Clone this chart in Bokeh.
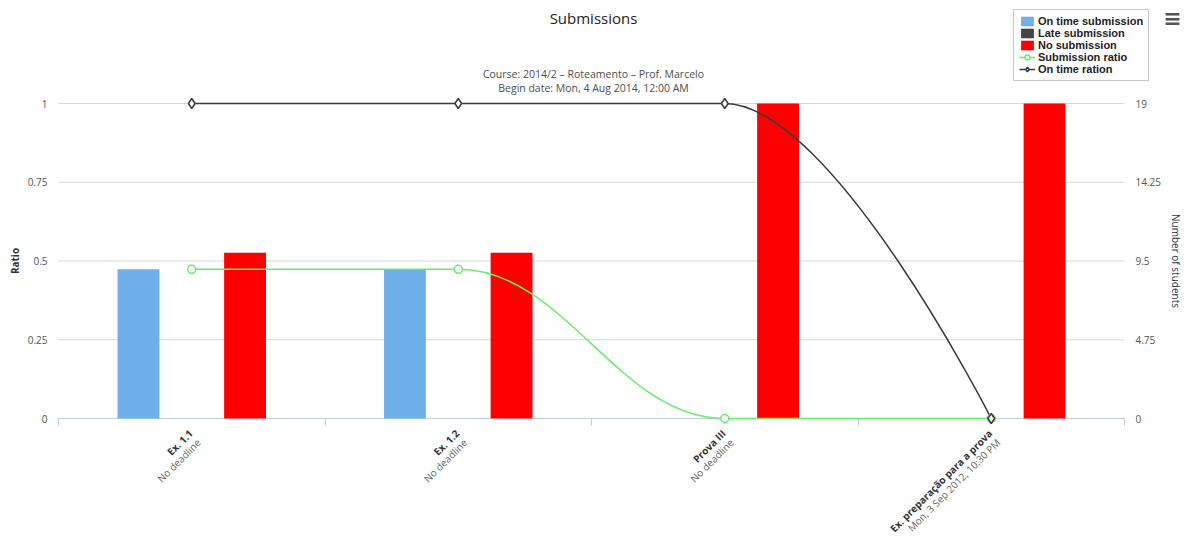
from bokeh.plotting import figure
from bokeh.models import (Range1d, LinearAxis, FixedTicker, Legend, LegendItem,
                          Label, ColumnDataSource)
from bokeh.transform import dodge
from bokeh.embed import file_html
from bokeh.resources import INLINE

# ---------------- data ----------------
categories = ["Ex. 1.1", "Ex. 1.2", "Prova III", "Ex. preparação para a prova"]
deadlines = ["No deadline", "No deadline", "No deadline", "Mon, 3 Sep 2012, 10:30 PM"]
on_time = [9, 9, 0, 0]
late = [0, 0, 0, 0]
no_submission = [10, 10, 19, 19]
submission_ratio = [9 / 19, 9 / 19, 0, 0]
on_time_ratio = [1, 1, 1, 0]
ratio_ticks = [0, 0.25, 0.5, 0.75, 1]
ratio_labels = ["0", "0.25", "0.5", "0.75", "1"]
student_ticks = [0, 4.75, 9.5, 14.25, 19]
student_labels = ["0", "4.75", "9.5", "14.25", "19"]
student_max = 19
title = "Submissions"
subtitle = ["Course: 2014/2 – Roteamento – Prof. Marcelo",
            "Begin date: Mon, 4 Aug 2014, 12:00 AM"]
left_title = "Ratio"
right_title = "Number of students"

# ---------------- layout (pixels) ----------------
W, H = 1188, 542
PLOT_L, PLOT_R = 58, 64          # plot-area margins inside the canvas
PLOT_T, PLOT_B = 103, 124
FONT = "Open Sans"
n = len(categories)
band = (W - PLOT_L - PLOT_R) / n
unit = H - PLOT_T - PLOT_B       # pixels for ratio 0..1
x0 = -0.5 - PLOT_L / band
x1 = n - 0.5 + PLOT_R / band
y0 = -PLOT_B / unit
y1 = 1 + PLOT_T / unit
idx = list(range(n))


def hc_spline(xs, ys, smoothing=1.5):
    """Highcharts-style spline: control points for cubic bezier segments."""
    m = len(xs)
    lc = [None] * m
    rc = [None] * m
    denom = smoothing + 1
    for i in range(1, m - 1):
        px, py = xs[i], ys[i]
        lx, ly = xs[i - 1], ys[i - 1]
        nx, ny = xs[i + 1], ys[i + 1]
        lcx = (smoothing * px + lx) / denom
        lcy = (smoothing * py + ly) / denom
        rcx = (smoothing * px + nx) / denom
        rcy = (smoothing * py + ny) / denom
        corr = ((rcy - lcy) * (rcx - px)) / (rcx - lcx) + py - rcy
        lcy += corr
        rcy += corr
        if lcy > ly and lcy > py:
            lcy = max(ly, py); rcy = 2 * py - lcy
        elif lcy < ly and lcy < py:
            lcy = min(ly, py); rcy = 2 * py - lcy
        if rcy > py and rcy > ny:
            rcy = max(py, ny); lcy = 2 * py - rcy
        elif rcy < py and rcy < ny:
            rcy = min(py, ny); lcy = 2 * py - rcy
        lc[i] = (lcx, lcy)
        rc[i] = (rcx, rcy)
    seg = dict(x0=[], y0=[], x1=[], y1=[], cx0=[], cy0=[], cx1=[], cy1=[])
    for i in range(1, m):
        c0 = rc[i - 1] if rc[i - 1] else (xs[i - 1], ys[i - 1])
        c1 = lc[i] if lc[i] else (xs[i], ys[i])
        seg["x0"].append(xs[i - 1]); seg["y0"].append(ys[i - 1])
        seg["x1"].append(xs[i]); seg["y1"].append(ys[i])
        seg["cx0"].append(c0[0]); seg["cy0"].append(c0[1])
        seg["cx1"].append(c1[0]); seg["cy1"].append(c1[1])
    return seg


# ---------------- figure ----------------
p = figure(width=W, height=H, output_backend="svg", toolbar_location=None, title=None,
           x_range=Range1d(x0, x1), y_range=Range1d(y0, y1),
           min_border_left=0, min_border_right=0, min_border_bottom=0, min_border_top=0)
p.outline_line_color = None
p.background_fill_color = "white"
p.border_fill_color = "white"
p.xgrid.visible = False
p.ygrid.visible = False
p.extra_y_ranges = {"students": Range1d(y0 * student_max, y1 * student_max)}

# left axis (Ratio)
la = p.left[0]
la.fixed_location = -0.5
la.bounds = (0, 1)
la.ticker = FixedTicker(ticks=ratio_ticks)
la.major_label_overrides = dict(zip(ratio_ticks, ratio_labels))
la.axis_line_color = None
la.major_tick_line_color = None
la.major_tick_out = 0
la.major_tick_in = 0
la.minor_tick_line_color = None
la.major_label_text_font = FONT
la.major_label_text_font_size = "10px"
la.major_label_text_color = "#555555"
la.major_label_standoff = 11

# right axis (Number of students)
ra = LinearAxis(y_range_name="students", ticker=FixedTicker(ticks=student_ticks))
ra.fixed_location = n - 0.5
ra.bounds = (0, student_max)
ra.major_label_overrides = dict(zip(student_ticks, student_labels))
ra.axis_line_color = None
ra.major_tick_line_color = None
ra.major_tick_out = 0
ra.major_tick_in = 0
ra.minor_tick_line_color = None
ra.major_label_text_font = FONT
ra.major_label_text_font_size = "10px"
ra.major_label_text_color = "#555555"
ra.major_label_standoff = 11
p.add_layout(ra, "right")

# x axis: category boundaries as ticks
xa = p.below[0]
xa.fixed_location = 0
xa.bounds = (-0.5, n - 0.5)
xa.level = "underlay"
xa.ticker = FixedTicker(ticks=[], minor_ticks=[i - 0.5 for i in range(n + 1)])
xa.axis_line_color = "#C0D0E0"
xa.minor_tick_line_color = "#C0D0E0"
xa.minor_tick_out = 7
xa.minor_tick_in = 0
xa.major_tick_line_color = None
xa.major_label_text_font_size = "0px"

# horizontal grid lines at the ratio ticks
p.segment(x0=[-0.5] * len(ratio_ticks), x1=[n - 0.5] * len(ratio_ticks),
          y0=ratio_ticks, y1=ratio_ticks, line_color="#D8D8D8", line_width=1,
          level="underlay")

# ---------------- bars ----------------
src = ColumnDataSource(dict(x=idx, on_time=on_time, late=late, no_sub=no_submission))
bw = 0.157
r_on = p.vbar(x=dodge("x", -0.2, range=p.x_range), top="on_time", bottom=0, width=bw,
              source=src, y_range_name="students", fill_color="#6FB0EC", line_color=None)
r_late = p.vbar(x=dodge("x", 0.0, range=p.x_range), top="late", bottom=0, width=bw,
                source=src, y_range_name="students", fill_color="#434348", line_color=None)
r_no = p.vbar(x=dodge("x", 0.2, range=p.x_range), top="no_sub", bottom=0, width=bw,
              source=src, y_range_name="students", fill_color="#FF0000", line_color=None)

# ---------------- spline lines ----------------
GREEN = "#66EE66"
DARK = "#3A3A3A"
sg = hc_spline(idx, submission_ratio)
r_sg_line = p.bezier(source=ColumnDataSource(sg), x0="x0", y0="y0", x1="x1", y1="y1",
                     cx0="cx0", cy0="cy0", cx1="cx1", cy1="cy1",
                     line_color=GREEN, line_width=1.5)
so = hc_spline(idx, on_time_ratio)
r_so_line = p.bezier(source=ColumnDataSource(so), x0="x0", y0="y0", x1="x1", y1="y1",
                     cx0="cx0", cy0="cy0", cx1="cx1", cy1="cy1",
                     line_color=DARK, line_width=1.5)
r_sg = p.scatter(idx, submission_ratio, marker="circle", size=8, fill_color="white",
                 line_color=GREEN, line_width=1.5)
r_so = p.scatter(idx, on_time_ratio, marker="diamond", size=10, fill_color="white",
                 line_color=DARK, line_width=1.5)

# ---------------- category labels ----------------
for i, (c, d) in enumerate(zip(categories, deadlines)):
    p.add_layout(Label(x=i, y=0, x_offset=-1, y_offset=-13, text=c, angle=45,
                       angle_units="deg", text_align="right", text_baseline="middle",
                       text_font=FONT, text_font_size="10px", text_font_style="bold",
                       text_color="#333333"))
    p.add_layout(Label(x=i, y=0, x_offset=7, y_offset=-22, text=d, angle=45,
                       angle_units="deg", text_align="right", text_baseline="middle",
                       text_font=FONT, text_font_size="10px",
                       text_color="#666666"))

# ---------------- titles ----------------
p.add_layout(Label(x=W / 2 - 1, y=H - 17, x_units="screen", y_units="screen", text=title,
                   text_align="center", text_baseline="middle", text_font=FONT,
                   text_font_size="15px", text_color="#222222"))
for k, s in enumerate(subtitle):
    p.add_layout(Label(x=W / 2 - 1, y=H - 73 - 14 * k, x_units="screen", y_units="screen",
                       text=s, text_align="center", text_baseline="middle",
                       text_font=FONT, text_font_size="10.5px", text_color="#4D4D4D"))

# axis titles
mid_y = PLOT_B + unit / 2
p.add_layout(Label(x=14, y=mid_y, x_units="screen", y_units="screen", text=left_title,
                   angle=90, angle_units="deg", text_align="center",
                   text_baseline="middle", text_font=FONT, text_font_size="10px",
                   text_font_style="bold", text_color="#333333"))
p.add_layout(Label(x=W - 13, y=mid_y, x_units="screen", y_units="screen",
                   text=right_title, angle=-90, angle_units="deg", text_align="center",
                   text_baseline="middle", text_font=FONT, text_font_size="10px",
                   text_color="#333333"))

# export menu glyph
p.add_layout(Label(x=W - 16, y=H - 18, x_units="screen", y_units="screen", text="≡",
                   text_align="center", text_baseline="middle", text_font="DejaVu Sans",
                   text_font_size="22px", text_font_style="bold", text_color="#555555"))

# ---------------- legend ----------------
legend = Legend(items=[
    LegendItem(label="On time submission", renderers=[r_on]),
    LegendItem(label="Late submission", renderers=[r_late]),
    LegendItem(label="No submission", renderers=[r_no]),
    LegendItem(label="Submission ratio", renderers=[r_sg_line, r_sg]),
    LegendItem(label="On time ration", renderers=[r_so_line, r_so]),
], location=(1013, H - 81))
legend.label_text_font = "Liberation Sans"
legend.label_text_font_size = "11px"
legend.label_text_font_style = "bold"
legend.label_text_color = "#222222"
legend.glyph_width = 16
legend.glyph_height = 12
legend.label_height = 11
legend.label_standoff = 3
legend.spacing = 0
legend.padding = 5
legend.margin = 0
legend.border_line_color = "#909090"
legend.border_line_width = 1
legend.background_fill_color = "white"
legend.background_fill_alpha = 1
p.add_layout(legend)

open("out.html", "w").write(file_html(p, INLINE))
